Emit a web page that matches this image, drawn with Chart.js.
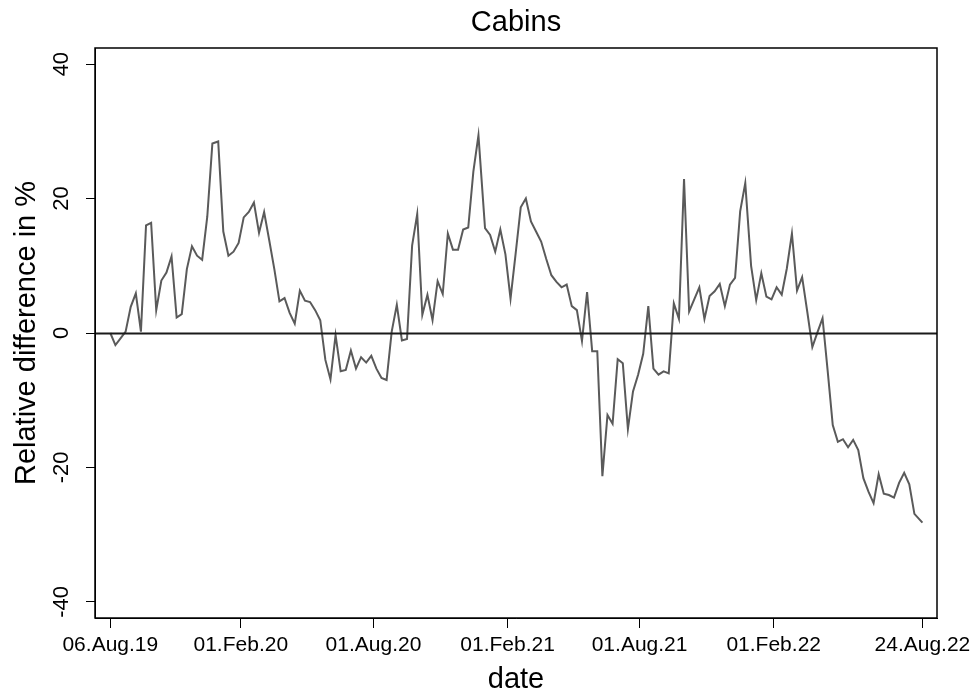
<!DOCTYPE html>
<html>
<head>
<meta charset="utf-8">
<script src="https://cdn.jsdelivr.net/npm/chart.js@4.4.1/dist/chart.umd.min.js"></script>
<style>
  html, body { margin: 0; padding: 0; background: #fff; }
</style>
</head>
<body>
<canvas id="c" width="978" height="693"></canvas>
<script>
// Weekly series (Stata %tw weeks: 52 per year), first week 2019w32 = 06.Aug.19,
// last observation dated 24.Aug.22
const FIRST_YEAR = 2019;
const FIRST_WEEK = 32;
const ORIGIN = Date.UTC(2019, 7, 6);
const LAST_DATE = Date.UTC(2022, 7, 24);
const DAY = 86400000;

const relDiff = [
  0, -1.8, -0.8, 0.2, 3.9, 5.9, 0.2, 16.0, 16.4, 3.4,
  7.8, 9.0, 11.4, 2.3, 2.8, 9.5, 12.9, 11.5, 10.9, 17.3,
  28.2, 28.5, 15.1, 11.5, 12.1, 13.4, 17.2, 18.0, 19.4, 14.9,
  18.0, 13.8, 9.5, 4.7, 5.2, 3.0, 1.4, 6.3, 4.8, 4.6,
  3.4, 1.9, -4.0, -6.9, -0.3, -5.7, -5.5, -2.6, -5.3, -3.6,
  -4.4, -3.4, -5.3, -6.7, -7.0, 0.2, 4.2, -1.1, -0.9, 13.0,
  17.7, 2.7, 5.7, 1.9, 7.7, 5.8, 14.8, 12.4, 12.4, 15.4,
  15.7, 24.0, 29.4, 15.6, 14.6, 12.1, 15.4, 11.7, 5.1, 11.8,
  18.7, 20.0, 16.6, 15.1, 13.6, 11.0, 8.6, 7.6, 6.8, 7.2,
  4.0, 3.4, -1.2, 6.1, -2.7, -2.7, -21.3, -12.2, -13.5, -3.9,
  -4.5, -14.3, -8.7, -6.2, -3.1, 4.0, -5.3, -6.2, -5.7, -6.0,
  4.4, 2.1, 22.9, 3.2, 5.0, 6.8, 2.1, 5.5, 6.2, 7.3,
  4.0, 7.2, 8.2, 18.1, 22.3, 10.0, 4.9, 8.9, 5.4, 5.0,
  6.8, 5.7, 9.6, 14.8, 6.3, 8.3, 3.2, -2.1, 0.1, 2.2,
  -5.6, -13.7, -16.2, -15.8, -17.0, -15.9, -17.4, -21.6, -23.6, -25.3,
  -21.0, -23.9, -24.1, -24.5, -22.3, -20.8, -22.5, -26.9, -28.2
];

const tickDates = [
  [2019, 7, 6], [2020, 1, 1], [2020, 7, 1], [2021, 1, 1],
  [2021, 7, 1], [2022, 1, 1], [2022, 7, 24]
];
const tickLabels = ['06.Aug.19', '01.Feb.20', '01.Aug.20', '01.Feb.21', '01.Aug.21', '01.Feb.22', '24.Aug.22'];
const yTickValues = [-40, -20, 0, 20, 40];

const FONT = "'Liberation Sans', Arial, sans-serif";

function weekDay(i) {
  if (i === relDiff.length - 1) return (LAST_DATE - ORIGIN) / DAY;
  let y = FIRST_YEAR, w = FIRST_WEEK + i;
  while (w > 52) { w -= 52; y++; }
  return (Date.UTC(y, 0, 1) + (w - 1) * 7 * DAY - ORIGIN) / DAY;
}
function dateDay(d) {
  return (Date.UTC(d[0], d[1], d[2]) - ORIGIN) / DAY;
}

const tickDays = tickDates.map(dateDay);
const points = relDiff.map((v, i) => ({ x: weekDay(i), y: v }));

const framePlugin = {
  id: 'stataFrame',
  afterDatasetsDraw(chart) {
    const { ctx, chartArea: a, scales } = chart;
    ctx.save();
    // zero reference line
    const y0 = Math.round(scales.y.getPixelForValue(0)) + 0.5;
    ctx.strokeStyle = '#1a1a1a';
    ctx.lineWidth = 2;
    ctx.beginPath();
    ctx.moveTo(a.left, y0);
    ctx.lineTo(a.right, y0);
    ctx.stroke();
    // plot frame
    ctx.strokeStyle = '#000';
    ctx.lineWidth = 1.5;
    ctx.strokeRect(a.left, a.top, a.right - a.left, a.bottom - a.top);
    // rotated y tick labels
    ctx.fillStyle = '#000';
    ctx.font = '22px ' + FONT;
    ctx.textAlign = 'center';
    ctx.textBaseline = 'middle';
    yTickValues.forEach(v => {
      const py = scales.y.getPixelForValue(v);
      ctx.save();
      ctx.translate(62, py);
      ctx.rotate(-Math.PI / 2);
      ctx.fillText(String(v), 0, 0);
      ctx.restore();
    });
    // title
    ctx.font = '29px ' + FONT;
    ctx.fillText('Cabins', (a.left + a.right) / 2, 23);
    ctx.restore();
  }
};

new Chart(document.getElementById('c'), {
  type: 'line',
  data: {
    datasets: [{
      data: points,
      borderColor: '#5a5a5a',
      borderWidth: 2,
      pointRadius: 0,
      tension: 0,
      fill: false
    }]
  },
  options: {
    responsive: false,
    animation: false,
    devicePixelRatio: 1,
    layout: { padding: { left: 0, right: 41, top: 48, bottom: 0 } },
    plugins: { legend: { display: false }, tooltip: { enabled: false }, title: { display: false } },
    scales: {
      x: {
        type: 'linear',
        min: -21,
        max: 1134,
        afterBuildTicks: s => { s.ticks = tickDays.map(v => ({ value: v })); },
        afterFit: s => { s.height = 75; s.paddingLeft = 0; s.paddingRight = 0; },
        ticks: {
          autoSkip: false,
          maxRotation: 0,
          minRotation: 0,
          padding: 5,
          color: '#000',
          font: { family: FONT, size: 21 },
          callback: v => tickLabels[tickDays.indexOf(v)]
        },
        grid: { display: true, drawOnChartArea: false, drawTicks: true, tickLength: 10, color: '#000', lineWidth: 1 },
        border: { display: true, color: '#000', width: 1 },
        title: { display: true, text: 'date', color: '#000', font: { family: FONT, size: 29 }, padding: { top: 0, bottom: -4 } }
      },
      y: {
        type: 'linear',
        min: -42.4,
        max: 42.4,
        afterBuildTicks: s => { s.ticks = yTickValues.map(v => ({ value: v })); },
        afterFit: s => { s.width = 95; s.paddingTop = 0; s.paddingBottom = 0; },
        ticks: { display: false },
        grid: { display: true, drawOnChartArea: false, drawTicks: true, tickLength: 9, color: '#000', lineWidth: 1 },
        border: { display: true, color: '#000', width: 1 },
        title: { display: true, text: 'Relative difference in %', color: '#000', font: { family: FONT, size: 29 }, padding: { top: 10, bottom: 0 } }
      }
    }
  },
  plugins: [framePlugin]
});
</script>
</body>
</html>
